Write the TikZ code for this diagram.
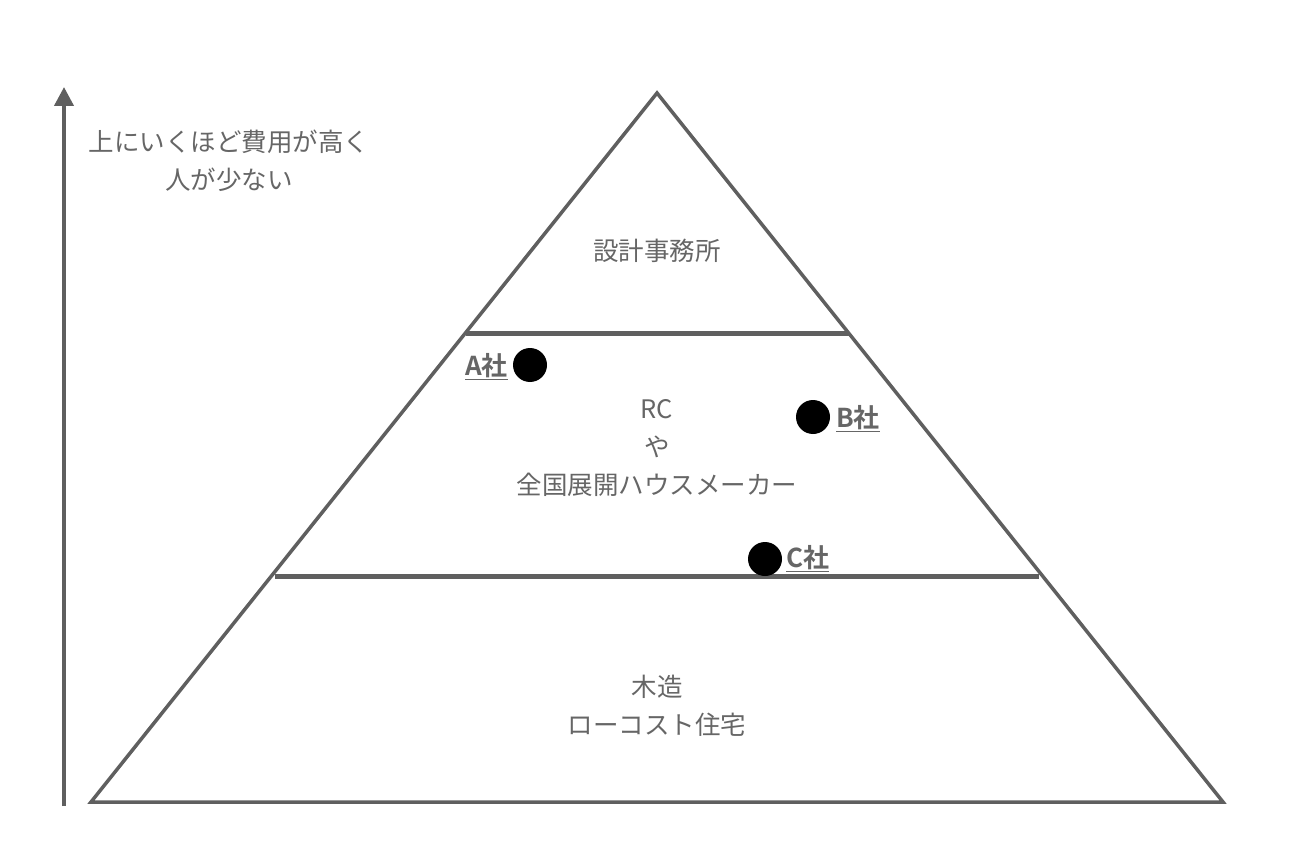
\documentclass[tikz,border=0pt]{standalone}
\usepackage{fontspec}
\newfontfamily\jp{Noto Sans CJK JP}
\newfontfamily\jpb{Noto Sans CJK JP Bold}
\usetikzlibrary{arrows.meta}
\definecolor{ln}{HTML}{5F5F5F}
\definecolor{tx}{HTML}{666666}
\tikzset{
  x=1pt,y=-1pt,
  lbl/.style={text=tx,font=\jp\fontsize{25.5}{38}\selectfont,align=center,inner sep=0},
  co/.style={text=tx,font=\jpb\fontsize{26}{28}\selectfont,inner sep=0},
  dot/.style={circle,fill=black,minimum size=34pt,inner sep=0},
  edge/.style={draw=ln,line width=3.5pt},
  band/.style={draw=ln,line width=5pt}
}
\newcommand{\ul}[1]{\underline{#1}}
\begin{document}
\begin{tikzpicture}
\useasboundingbox (0,0) rectangle (1290,850);
% triangle
\coordinate (apex) at (657,93);
\coordinate (bl) at (91,802);
\coordinate (br) at (1223,802);
\draw[edge,line join=miter] (apex) -- (bl) -- (br) -- cycle;
\coordinate (l1a) at (466,333);
\coordinate (l1b) at (849,333);
\coordinate (l2a) at (275,576);
\coordinate (l2b) at (1039,576);
\draw[band] (l1a) -- (l1b);
\draw[band] (l2a) -- (l2b);
% axis arrow
\coordinate (ax0) at (64,806);
\coordinate (ax1) at (64,87);
\draw[draw=ln,line width=4pt,-{Triangle[length=19pt,width=19pt]}] (ax0) -- (ax1);
% texts
\node[lbl] (note) at (229,161) {上にいくほど費用が高く\\人が少ない};
\node[lbl] (t1) at (657,251) {設計事務所};
\node[lbl] (t2) at (657,448) {RC\\や\\全国展開ハウスメーカー};
\node[lbl] (t3) at (657,706) {木造\\ローコスト住宅};
% companies
\node[dot] (da) at (530,365) {};
\node[dot] (db) at (813,417) {};
\node[dot] (dc) at (765,559) {};
\node[co,anchor=east] (a) at (508,367) {\ul{A社}};
\node[co,anchor=west] (b) at (836,419) {\ul{B社}};
\node[co,anchor=west] (c) at (786,559) {\ul{C社}};
\end{tikzpicture}
\end{document}
